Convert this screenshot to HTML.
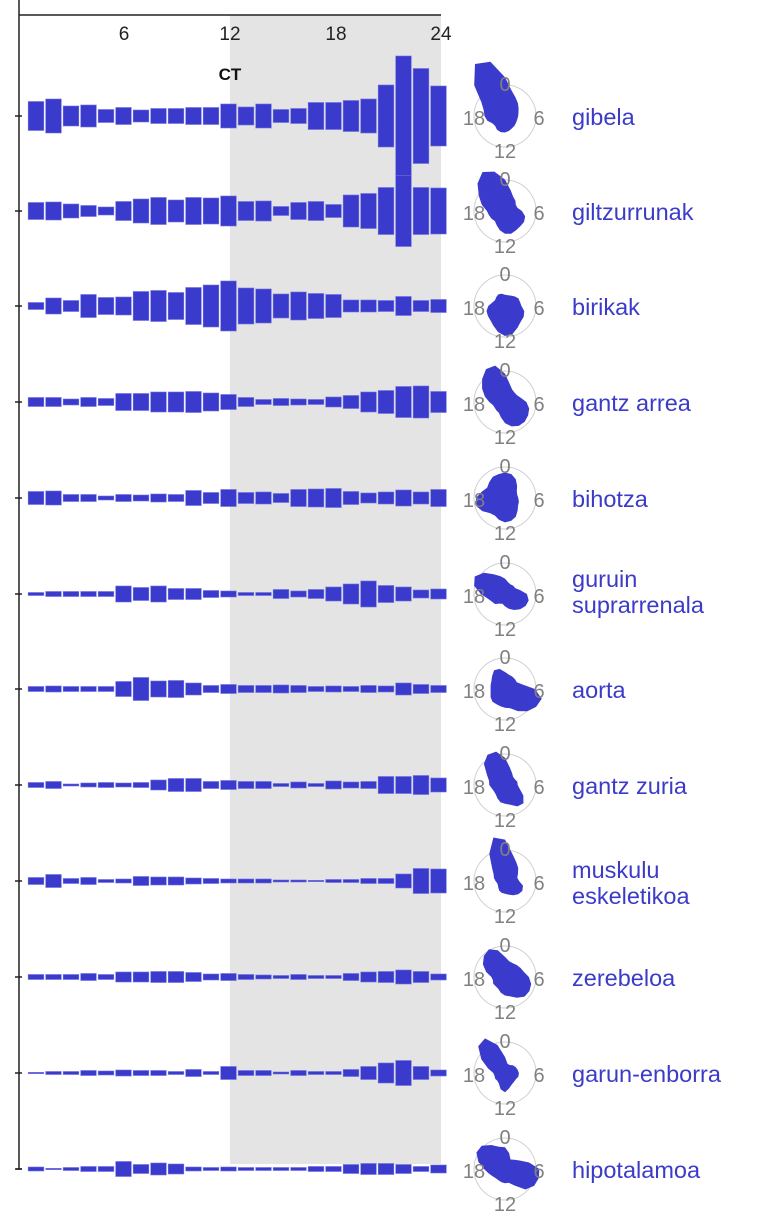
<!DOCTYPE html>
<html><head><meta charset="utf-8"><style>
html,body{margin:0;padding:0;background:#fff;}
svg{display:block;font-family:"Liberation Sans",sans-serif;}
.pl{fill:#808080;font-size:20px;text-anchor:middle;}
.nm{fill:#3b3bc8;font-size:23.5px;}
</style></head><body>
<svg id="s" width="768" height="1219" viewBox="0 0 768 1219">
<rect x="230" y="15" width="211" height="1149" fill="#e4e4e4"/>
<line x1="19" y1="15" x2="441" y2="15" stroke="#222" stroke-width="1.5"/>
<line x1="19" y1="0" x2="19" y2="1169" stroke="#222" stroke-width="1.5"/>
<line x1="16" y1="1169" x2="22" y2="1169" stroke="#222" stroke-width="1.5"/>
<g font-size="19" fill="#222" text-anchor="middle">
<text x="124" y="40">6</text><text x="230" y="40">12</text><text x="336" y="40">18</text><text x="441" y="40">24</text>
</g>
<text x="230" y="80" font-size="17" font-weight="bold" fill="#111" text-anchor="middle">CT</text>
<g id="bars"></g>
<g id="polars"></g>
<g class="pl">
<text x="505" y="91">0</text><text x="539" y="125">6</text><text x="505" y="158">12</text><text x="474" y="125">18</text>
<text x="505" y="186">0</text><text x="539" y="220">6</text><text x="505" y="253">12</text><text x="474" y="220">18</text>
<text x="505" y="281">0</text><text x="539" y="315">6</text><text x="505" y="348">12</text><text x="474" y="315">18</text>
<text x="505" y="377">0</text><text x="539" y="411">6</text><text x="505" y="444">12</text><text x="474" y="411">18</text>
<text x="505" y="473">0</text><text x="539" y="507">6</text><text x="505" y="540">12</text><text x="474" y="507">18</text>
<text x="505" y="569">0</text><text x="539" y="603">6</text><text x="505" y="636">12</text><text x="474" y="603">18</text>
<text x="505" y="664">0</text><text x="539" y="698">6</text><text x="505" y="731">12</text><text x="474" y="698">18</text>
<text x="505" y="760">0</text><text x="539" y="794">6</text><text x="505" y="827">12</text><text x="474" y="794">18</text>
<text x="505" y="856">0</text><text x="539" y="890">6</text><text x="505" y="923">12</text><text x="474" y="890">18</text>
<text x="505" y="952">0</text><text x="539" y="986">6</text><text x="505" y="1019">12</text><text x="474" y="986">18</text>
<text x="505" y="1048">0</text><text x="539" y="1082">6</text><text x="505" y="1115">12</text><text x="474" y="1082">18</text>
<text x="505" y="1144">0</text><text x="539" y="1178">6</text><text x="505" y="1211">12</text><text x="474" y="1178">18</text>
</g>
<g class="nm">
<text x="572" y="125">gibela</text>
<text x="572" y="220">giltzurrunak</text>
<text x="572" y="315">birikak</text>
<text x="572" y="411">gantz arrea</text>
<text x="572" y="507">bihotza</text>
<text x="572" y="587">guruin</text>
<text x="572" y="613">suprarrenala</text>
<text x="572" y="698">aorta</text>
<text x="572" y="794">gantz zuria</text>
<text x="572" y="878">muskulu</text>
<text x="572" y="904">eskeletikoa</text>
<text x="572" y="986">zerebeloa</text>
<text x="572" y="1082">garun-enborra</text>
<text x="572" y="1178">hipotalamoa</text>
</g>
</svg>
<script>
var NS="http://www.w3.org/2000/svg";
var cy=[116,211,306,402,498,594,689,785,881,977,1073,1169];
var D=[
[29,34,20,22,13,17,12,15,15,17,17,24,18,24,13,15,27,27,31,34,62,120,95,60],
[17,18,14,11,8,19,24,27,22,27,26,30,19,20,9,17,19,13,32,35,47,71,47,46],
[7,16,11,23,17,18,29,31,27,37,42,50,36,34,24,28,25,23,12,12,11,19,11,13],
[9,9,6,9,7,17,17,20,20,21,18,15,9,5,7,6,5,10,13,20,23,31,32,21],
[13,14,7,7,4,7,6,8,7,15,11,17,11,12,9,17,18,19,13,10,12,16,12,17],
[3,5,5,5,5,16,13,16,11,11,7,6,3,3,9,6,9,14,20,26,17,14,8,10],
[5,6,5,5,5,15,23,16,17,12,7,9,7,7,8,7,5,6,5,7,6,12,9,7],
[5,7,2,4,5,4,5,10,13,13,7,9,7,7,3,6,3,8,6,7,17,17,19,14],
[7,13,5,7,3,4,9,8,8,6,5,4,4,4,2,2,1,3,3,5,5,14,25,24],
[5,5,5,7,5,10,10,11,11,9,6,7,5,4,3,5,3,3,7,10,11,14,11,6],
[1,3,3,5,4,6,5,5,3,7,3,13,5,5,2,5,3,3,7,13,20,25,13,6],
[4,1,3,5,5,15,9,12,10,4,3,4,3,3,3,3,5,5,9,11,11,9,5,8]];
var RM=[60,45,30,38,30,35,38,35,45,32,40,35];
var bars=document.getElementById("bars"),pol=document.getElementById("polars");
for(var r=0;r<12;r++){
 var y=cy[r];
 var t=document.createElementNS(NS,"line");
 t.setAttribute("x1",15);t.setAttribute("x2",22);t.setAttribute("y1",y);t.setAttribute("y2",y);
 t.setAttribute("stroke","#222");t.setAttribute("stroke-width","1.5");bars.appendChild(t);
 for(var i=0;i<24;i++){
  var h=Math.max(D[r][i],1.2),x=36+17.5*i-7.8;
  var b=document.createElementNS(NS,"rect");
  b.setAttribute("x",x);b.setAttribute("y",y-h/2);b.setAttribute("width",15.6);b.setAttribute("height",h);
  b.setAttribute("fill","#3a3acc");b.setAttribute("stroke","#7070e0");b.setAttribute("stroke-width","0.6");
  bars.appendChild(b);
 }
 var c=document.createElementNS(NS,"circle");
 c.setAttribute("cx",505);c.setAttribute("cy",y);c.setAttribute("r",31);
 c.setAttribute("fill","none");c.setAttribute("stroke","#cfcfcf");c.setAttribute("stroke-width","1");
 pol.appendChild(c);
 var S=[];
 for(var i=0;i<24;i++){var v=D[r];S.push((v[(i+23)%24]+2*v[i]+v[(i+1)%24])/4);}
 var mx=Math.max.apply(null,S);
 var pts=[];
 for(var i=0;i<24;i++){
  var hr=(i+1)%24,a=hr/24*2*Math.PI,rr=5+S[i]/mx*(RM[r]-5);
  pts.push((505+rr*Math.sin(a)).toFixed(1)+","+(y-rr*Math.cos(a)).toFixed(1));
 }
 var p=document.createElementNS(NS,"polygon");
 p.setAttribute("points",pts.join(" "));p.setAttribute("fill","#3a3acc");
 pol.appendChild(p);
}
</script>
</body></html>
